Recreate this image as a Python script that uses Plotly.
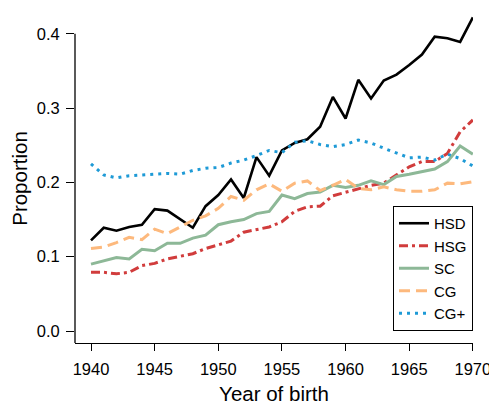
"""
Proportion by year of birth, one line per education group.
"""

import plotly.graph_objects as go

years = list(range(1940, 1971))

hsd = [0.122, 0.139, 0.135, 0.140, 0.143, 0.164, 0.162, 0.150, 0.139, 0.168,
       0.183, 0.204, 0.179, 0.234, 0.209, 0.243, 0.253, 0.258, 0.275, 0.315,
       0.286, 0.338, 0.313, 0.337, 0.345, 0.358, 0.372, 0.396, 0.394, 0.389,
       0.422]
hsg = [0.079, 0.079, 0.077, 0.079, 0.088, 0.091, 0.097, 0.100, 0.104, 0.111,
       0.116, 0.121, 0.133, 0.136, 0.140, 0.147, 0.161, 0.167, 0.168, 0.182,
       0.187, 0.192, 0.196, 0.199, 0.210, 0.221, 0.228, 0.228, 0.239, 0.268,
       0.284]
sc = [0.090, 0.095, 0.099, 0.097, 0.110, 0.108, 0.118, 0.118, 0.125, 0.129,
      0.143, 0.147, 0.150, 0.158, 0.161, 0.183, 0.178, 0.185, 0.187, 0.196,
      0.193, 0.196, 0.202, 0.197, 0.208, 0.211, 0.215, 0.218, 0.228, 0.249,
      0.238]
cg = [0.111, 0.113, 0.119, 0.126, 0.123, 0.137, 0.131, 0.140, 0.149, 0.155,
      0.165, 0.181, 0.176, 0.190, 0.198, 0.188, 0.199, 0.202, 0.189, 0.196,
      0.204, 0.192, 0.190, 0.194, 0.190, 0.188, 0.188, 0.190, 0.199, 0.198,
      0.201]
cg_plus = [0.225, 0.210, 0.206, 0.209, 0.210, 0.211, 0.212, 0.211, 0.216, 0.219,
           0.220, 0.226, 0.230, 0.236, 0.243, 0.240, 0.254, 0.256, 0.251, 0.248,
           0.251, 0.257, 0.253, 0.246, 0.240, 0.233, 0.234, 0.230, 0.238, 0.232,
           0.222]

x_ticks = [1940, 1945, 1950, 1955, 1960, 1965, 1970]
y_ticks = [0.0, 0.1, 0.2, 0.3, 0.4]

series = [
    ('HSD', hsd, '#000000', 'solid', 2.6),
    ('HSG', hsg, '#d13c3c', '9px,4px,3px,4px', 3),
    ('SC', sc, '#8db897', 'solid', 3),
    ('CG', cg, '#fdb97d', '11px,6px', 3),
    ('CG+', cg_plus, '#1e9ad6', '3px,5px', 3),
]

fig = go.Figure()
for name, vals, color, dash, width in series:
    fig.add_trace(go.Scatter(
        x=years,
        y=vals,
        mode='lines',
        name=name,
        line=dict(color=color, dash=dash, width=width),
    ))

# L-shaped frame: left spine only up to the 0.4 tick
fig.add_shape(type='line', xref='paper', yref='y', x0=0, x1=0,
              y0=-0.01615, y1=0.4, line=dict(color='black', width=1.3))

axis_font = dict(family='Liberation Sans, Arial, sans-serif', size=16.5, color='black')
title_font = dict(family='Liberation Sans, Arial, sans-serif', size=20.5, color='black')

# page body has an 8px margin, so the figure is 8px smaller and the margins shifted
fig.update_layout(
    width=489,
    height=399,
    margin=dict(l=67, r=24, t=6, b=64),
    paper_bgcolor='white',
    plot_bgcolor='white',
    font=axis_font,
    xaxis=dict(
        range=[1938.743, 1970.01],
        tickvals=x_ticks,
        ticks='outside', ticklen=7, tickwidth=1.3, tickcolor='black',
        showline=True, linecolor='black', linewidth=1.3,
        showgrid=False, zeroline=False,
        automargin=False,
        tickfont=axis_font,
        ticklabelstandoff=4,
        title=dict(text='Year of birth', font=title_font, standoff=9),
    ),
    yaxis=dict(
        range=[-0.01615, 0.4266],
        tickvals=y_ticks,
        tickformat='.1f',
        ticks='outside', ticklen=8, tickwidth=1.3, tickcolor='black',
        showline=False,
        showgrid=False, zeroline=False,
        automargin=False,
        tickfont=axis_font,
        ticklabelstandoff=3,
        title=dict(text='Proportion', font=title_font, standoff=12),
    ),
    legend=dict(
        x=1, xanchor='right',
        y=0.0365, yanchor='bottom',
        bgcolor='white',
        bordercolor='black', borderwidth=1,
        font=dict(family='Liberation Sans, Arial, sans-serif', size=15, color='black'),
        itemwidth=30,
    ),
)

fig.write_html("out.html")
